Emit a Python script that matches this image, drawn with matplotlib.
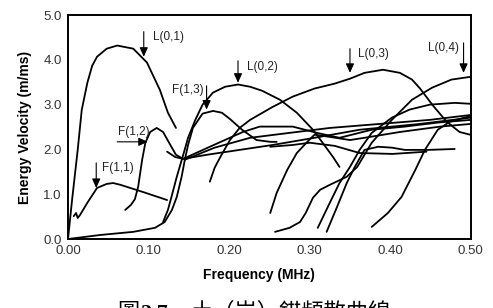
import matplotlib
matplotlib.use("Agg")
import matplotlib.pyplot as plt

# energy velocity dispersion curves
# frequency in MHz, energy velocity in m/ms
l01_f = [0.000, 0.005, 0.012, 0.017, 0.024, 0.030, 0.036, 0.048, 0.061, 0.081, 0.098, 0.114, 0.124, 0.134]
l01_v = [0.00, 0.87, 1.99, 2.88, 3.49, 3.87, 4.07, 4.25, 4.32, 4.25, 3.94, 3.33, 2.82, 2.48]

f11_f = [0.007, 0.010, 0.012, 0.015, 0.024, 0.036, 0.048, 0.056, 0.065, 0.093, 0.123]
f11_v = [0.51, 0.58, 0.47, 0.54, 0.81, 1.14, 1.23, 1.25, 1.21, 1.05, 0.87]

f12_f = [0.071, 0.078, 0.083, 0.087, 0.092, 0.096, 0.102, 0.110, 0.118, 0.127, 0.134, 0.143,
         0.172, 0.213, 0.254, 0.306, 0.362, 0.437, 0.500]
f12_v = [0.65, 0.76, 0.89, 1.16, 1.77, 2.15, 2.39, 2.48, 2.39, 2.10, 1.88, 1.79,
         1.88, 1.99, 2.10, 2.26, 2.44, 2.57, 2.71]

b1_f = [0.123, 0.133, 0.143, 0.176, 0.217, 0.238, 0.279, 0.309, 0.337, 0.377, 0.418, 0.459, 0.500]
b1_v = [1.95, 1.83, 1.79, 2.06, 2.39, 2.51, 2.51, 2.37, 2.26, 2.44, 2.51, 2.60, 2.66]

f13_f = [0.000, 0.040, 0.081, 0.108, 0.120, 0.129, 0.135, 0.141, 0.145, 0.149, 0.155, 0.167,
         0.180, 0.191, 0.201, 0.216, 0.234, 0.251, 0.259]
f13_v = [0.00, 0.09, 0.16, 0.25, 0.38, 0.65, 0.94, 1.39, 1.77, 2.10, 2.48, 2.80,
         2.86, 2.82, 2.68, 2.44, 2.21, 2.17, 2.17]

l02_f = [0.118, 0.124, 0.129, 0.135, 0.143, 0.149, 0.158, 0.167, 0.180, 0.195, 0.211, 0.226,
         0.241, 0.263, 0.284, 0.304, 0.316, 0.329, 0.337]
l02_v = [0.38, 0.65, 0.98, 1.39, 1.88, 2.26, 2.66, 3.00, 3.27, 3.40, 3.45, 3.40,
         3.31, 3.11, 2.82, 2.44, 2.15, 1.83, 1.61]

l03_f = [0.176, 0.182, 0.189, 0.201, 0.213, 0.226, 0.254, 0.279, 0.306, 0.331, 0.350, 0.368,
         0.391, 0.412, 0.427, 0.437, 0.453, 0.470, 0.486, 0.499]
l03_v = [1.28, 1.59, 1.83, 2.21, 2.48, 2.66, 2.95, 3.18, 3.36, 3.47, 3.58, 3.71,
         3.78, 3.71, 3.56, 3.36, 2.98, 2.62, 2.39, 2.33]

b2_f = [0.251, 0.259, 0.272, 0.284, 0.297, 0.306, 0.325, 0.350, 0.368, 0.412, 0.462, 0.500]
b2_v = [0.58, 1.03, 1.54, 1.92, 2.17, 2.33, 2.28, 2.21, 2.26, 2.39, 2.51, 2.57]

l04_f = [0.257, 0.275, 0.288, 0.295, 0.304, 0.313, 0.325, 0.346, 0.359, 0.377, 0.402, 0.427,
         0.452, 0.476, 0.499]
l04_v = [0.16, 0.25, 0.38, 0.58, 0.92, 1.10, 1.21, 1.39, 1.61, 2.15, 2.66, 3.11,
         3.38, 3.56, 3.62]

b3_f = [0.310, 0.325, 0.337, 0.350, 0.362, 0.377, 0.402, 0.424, 0.449, 0.480, 0.499]
b3_v = [0.25, 0.81, 1.25, 1.61, 1.99, 2.37, 2.71, 2.89, 3.00, 3.04, 3.02]

b4_f = [0.321, 0.334, 0.346, 0.356, 0.368, 0.385, 0.402, 0.418, 0.447, 0.480]
b4_v = [0.16, 0.72, 1.25, 1.61, 1.99, 2.06, 2.04, 1.99, 1.99, 2.01]

b5_f = [0.377, 0.397, 0.414, 0.431, 0.443, 0.459, 0.474, 0.500]
b5_v = [0.27, 0.58, 0.94, 1.54, 1.99, 2.44, 2.62, 2.75]

b6_f = [0.251, 0.279, 0.300, 0.331, 0.362, 0.403, 0.445]
b6_v = [2.06, 2.10, 2.15, 2.08, 1.92, 1.90, 1.95]

b7_f = [0.145, 0.182, 0.226, 0.275, 0.325, 0.387, 0.449, 0.500]
b7_v = [1.77, 2.04, 2.26, 2.37, 2.48, 2.57, 2.66, 2.77]

curves = [(l01_f, l01_v), (f11_f, f11_v), (f12_f, f12_v), (b1_f, b1_v),
          (f13_f, f13_v), (l02_f, l02_v), (l03_f, l03_v), (b2_f, b2_v),
          (l04_f, l04_v), (b3_f, b3_v), (b4_f, b4_v), (b5_f, b5_v),
          (b6_f, b6_v), (b7_f, b7_v)]

# mode labels: text, text position, arrow tail, arrow head, alignment
mode_labels = ["L(0,1)", "F(1,1)", "F(1,2)", "F(1,3)", "L(0,2)", "L(0,3)", "L(0,4)"]
label_xy = [(0.105, 4.52), (0.042, 1.59), (0.062, 2.39), (0.168, 3.33),
            (0.222, 3.85), (0.360, 4.14), (0.485, 4.27)]
arrow_from = [(0.094, 4.63), (0.035, 1.70), (0.061, 2.17), (0.172, 3.42),
              (0.211, 3.98), (0.350, 4.25), (0.491, 4.38)]
arrow_to = [(0.094, 4.07), (0.035, 1.14), (0.099, 2.17), (0.172, 2.89),
            (0.211, 3.49), (0.350, 3.71), (0.491, 3.71)]
label_ha = ["left", "left", "left", "right", "left", "left", "right"]

plt.rcParams['font.family'] = ['Liberation Sans', 'DejaVu Sans']

fig = plt.figure(figsize=(4.93, 3.08), dpi=100)
ax = fig.add_axes([0.138, 0.224, 0.817, 0.727])

for f, v in curves:
    ax.plot(f, v, color='black', linewidth=1.3, solid_capstyle='round')

for txt, pos, a0, a1, ha in zip(mode_labels, label_xy, arrow_from, arrow_to, label_ha):
    ax.annotate('', xy=a1, xytext=a0,
                arrowprops=dict(arrowstyle='-|>,head_length=0.55,head_width=0.25',
                                color='black', lw=0.8, shrinkA=0, shrinkB=0))
    ax.text(pos[0], pos[1], txt, fontsize=8.5, ha=ha, va='center', color='#222222')

ax.set_xlim(0, 0.5)
ax.set_ylim(0, 5)
ax.set_xticks([0.0, 0.1, 0.2, 0.3, 0.4, 0.5])
ax.set_xticklabels(['0.00', '0.10', '0.20', '0.30', '0.40', '0.50'])
ax.set_yticks([0, 1, 2, 3, 4, 5])
ax.set_yticklabels(['0.0', '1.0', '2.0', '3.0', '4.0', '5.0'])
ax.tick_params(length=0, labelsize=9.5, pad=4.5, labelcolor='#333333')
for s in ax.spines.values():
    s.set_linewidth(1.4)

ax.set_xlabel('Frequency (MHz)', fontsize=10, fontweight='bold')
ax.xaxis.set_label_coords(0.475, -0.13)
ax.set_ylabel('Energy Velocity (m/ms)', fontsize=10, fontweight='bold', labelpad=8)

# caption, cut off at the bottom edge like the scanned page
fig.text(0.237, -0.036, '圖', fontsize=16, family=['Noto Sans CJK TC'], va='baseline')
fig.text(0.284, -0.036, '2.7', fontsize=16, family=['Liberation Serif'], fontweight='bold', va='baseline')
fig.text(0.387, -0.036, '土（岩）錨頻散曲線', fontsize=16, family=['Noto Sans CJK TC'], va='baseline')

fig.savefig('out.png', dpi=100)
